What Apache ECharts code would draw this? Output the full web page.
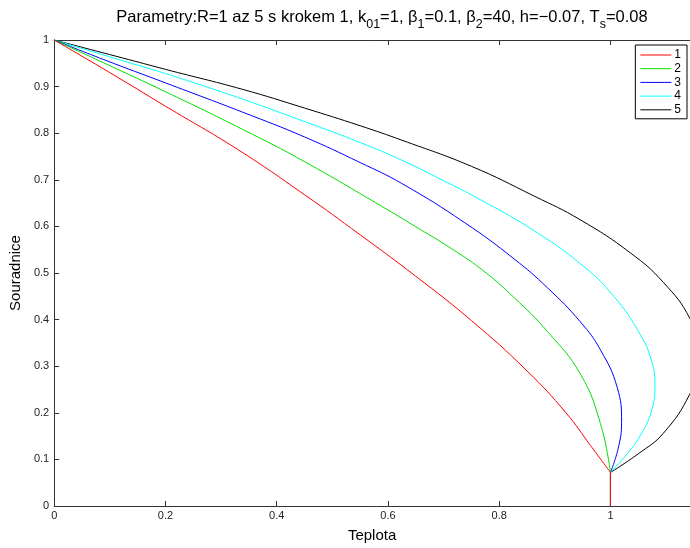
<!DOCTYPE html>
<html>
<head>
<meta charset="utf-8">
<script src="https://cdn.jsdelivr.net/npm/echarts@6/dist/echarts.min.js"></script>
<style>html,body{margin:0;padding:0;background:#fff;overflow:hidden}#c{width:690px;height:548px}</style>
</head>
<body>
<div id="c"></div>
<script>
const seriesNames = ['1', '2', '3', '4', '5'];
const seriesColors = ['#ff0000', '#00e000', '#0000ff', '#00ffff', '#000000'];

const x1 = [0, 0.1, 0.2, 0.33, 0.45, 0.55, 0.65, 0.75, 0.85, 0.92, 0.964, 1.0, 1.0];
const y1 = [1, 0.930, 0.858, 0.765, 0.668, 0.582, 0.493, 0.398, 0.290, 0.200, 0.130, 0.072, 0];

const x2 = [0, 0.089, 0.2, 0.339, 0.45, 0.589, 0.649, 0.708, 0.768, 0.827, 0.887, 0.946, 0.982, 1.0, 1.0];
const y2 = [1, 0.951, 0.889, 0.808, 0.739, 0.643, 0.600, 0.557, 0.508, 0.447, 0.374, 0.283, 0.177, 0.072, 0];

const x3 = [0, 0.089, 0.2, 0.339, 0.45, 0.55, 0.625, 0.738, 0.827, 0.887, 0.946, 0.982, 1.012, 1.020, 1.014, 1.0, 1.0];
const y3 = [1, 0.958, 0.908, 0.845, 0.792, 0.737, 0.692, 0.608, 0.530, 0.468, 0.395, 0.335, 0.255, 0.180, 0.124, 0.072, 0];

const x4 = [0, 0.116, 0.2, 0.339, 0.45, 0.55, 0.625, 0.70, 0.762, 0.857, 0.946, 1.006, 1.054, 1.074, 1.080, 1.074, 1.054, 1.030, 1.0, 1.0];
const y4 = [1, 0.958, 0.928, 0.873, 0.825, 0.780, 0.742, 0.698, 0.660, 0.595, 0.520, 0.450, 0.367, 0.311, 0.262, 0.205, 0.152, 0.112, 0.072, 0];

const x5 = [0, 0.134, 0.2, 0.339, 0.45, 0.55, 0.625, 0.75, 0.863, 0.946, 1.036, 1.095, 1.143, 1.165, 1.143, 1.095, 1.050, 1.0, 1.0];
const y5 = [1, 0.958, 0.937, 0.894, 0.854, 0.816, 0.785, 0.729, 0.665, 0.614, 0.543, 0.480, 0.402, 0.320, 0.241, 0.156, 0.112, 0.072, 0];

const xTicks = [0, 0.2, 0.4, 0.6, 0.8, 1];
const yTicks = [0, 0.1, 0.2, 0.3, 0.4, 0.5, 0.6, 0.7, 0.8, 0.9, 1];

const xs = [x1, x2, x3, x4, x5];
const ys = [y1, y2, y3, y4, y5];

const font = 'Liberation Sans, Arial, Helvetica, sans-serif';
const chart = echarts.init(document.getElementById('c'), null, {renderer: 'canvas'});

const series = [];
seriesNames.forEach((n, i) => {
  const pts = xs[i].map((v, k) => [v, ys[i][k]]);
  const common = {
    name: n,
    type: 'line',
    xAxisIndex: 0,
    yAxisIndex: 0,
    symbol: 'none',
    lineStyle: {color: seriesColors[i], width: 1},
    itemStyle: {color: seriesColors[i]},
    z: 5 - i
  };
  // curve up to the cusp
  series.push(Object.assign({}, common, {smooth: 0.45, data: pts.slice(0, pts.length - 1)}));
  // vertical stem from the cusp down to the axis
  series.push(Object.assign({}, common, {smooth: false, data: pts.slice(pts.length - 2)}));
});

const fmt = v => String(Math.round(v * 10) / 10);

chart.setOption({
  animation: false,
  backgroundColor: '#fff',
  title: {
    left: 377,
    top: 4,
    textAlign: 'center',
    text: '{n|Parametry:R=1 az 5 s krokem 1, k}{s|01}{n|=1, β}{s|1}{n|=0.1, β}{s|2}{n|=40, h=−0.07, T}{s|s}{n|=0.08}',
    textStyle: {
      fontFamily: font,
      fontWeight: 'normal',
      rich: {
        n: {fontSize: 16.5, fontFamily: font, fontWeight: 'normal', color: '#000', padding: [0, 0, 5, 0], verticalAlign: 'bottom'},
        s: {fontSize: 12.5, fontFamily: font, fontWeight: 'normal', color: '#000', verticalAlign: 'bottom'}
      }
    }
  },
  legend: {
    orient: 'vertical',
    right: 3,
    top: 45,
    data: seriesNames,
    icon: 'rect',
    itemWidth: 31,
    itemHeight: 1,
    itemGap: 1.7,
    padding: [4, 6, 3, 5],
    borderColor: '#000',
    borderWidth: 1,
    backgroundColor: '#fff',
    textStyle: {fontFamily: font, fontSize: 12, color: '#000', lineHeight: 12, padding: [0, 0, 0, -2]}
  },
  grid: {left: 50, top: 40, width: 640, height: 474, containLabel: false},
  xAxis: [{
    type: 'value',
    min: 0,
    max: 1.143,
    interval: 0.2,
    name: 'Teplota',
    nameLocation: 'middle',
    nameGap: 22,
    nameTextStyle: {fontFamily: font, fontSize: 15, color: '#000'},
    axisLine: {show: true, onZero: false, lineStyle: {color: '#333', width: 1}},
    axisTick: {show: true, inside: true, length: 5, lineStyle: {color: '#333'}},
    axisLabel: {showMaxLabel: false, margin: 4, fontFamily: font, fontSize: 11, color: '#222', formatter: fmt},
    splitLine: {show: false}
  }, {
    type: 'value',
    position: 'top',
    min: 0,
    max: 1.143,
    interval: 0.2,
    axisLine: {show: true, onZero: false, lineStyle: {color: '#333', width: 1}},
    axisTick: {show: true, inside: true, length: 5, lineStyle: {color: '#333'}},
    axisLabel: {show: false},
    splitLine: {show: false}
  }],
  yAxis: [{
    type: 'value',
    min: 0,
    max: 1,
    interval: 0.1,
    name: 'Souradnice',
    nameLocation: 'middle',
    nameGap: 25,
    nameRotate: 90,
    nameTextStyle: {fontFamily: font, fontSize: 15, color: '#000'},
    axisLine: {show: true, onZero: false, lineStyle: {color: '#333', width: 1}},
    axisTick: {show: true, inside: true, length: 5, lineStyle: {color: '#333'}},
    axisLabel: {margin: 5, fontFamily: font, fontSize: 11, color: '#222', formatter: fmt},
    splitLine: {show: false}
  }],
  series: series
});
</script>
</body>
</html>
